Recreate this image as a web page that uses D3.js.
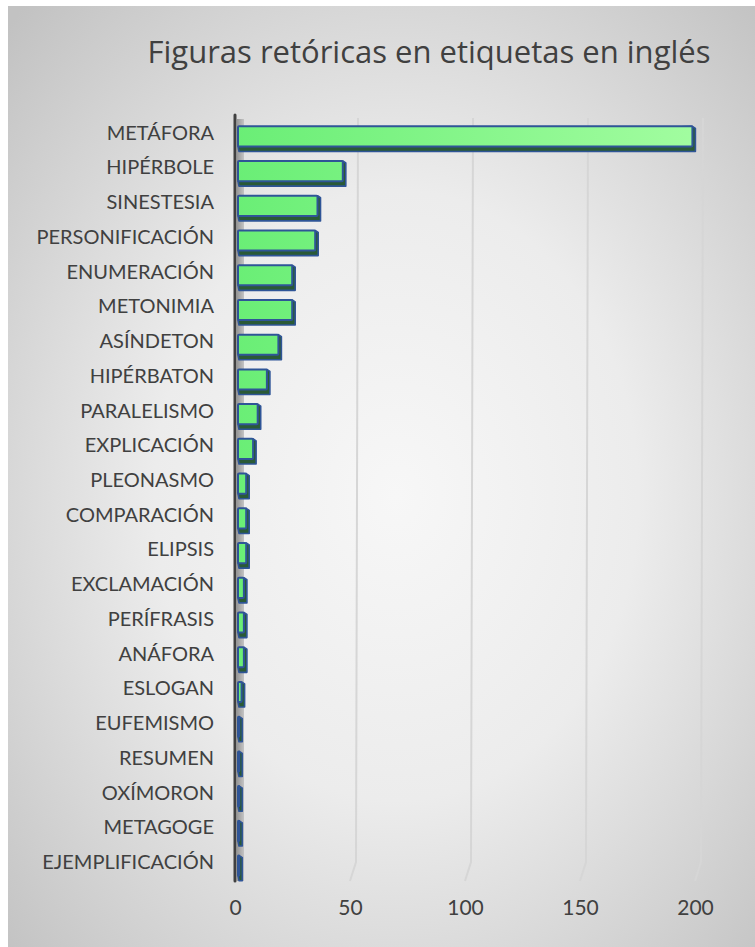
<!DOCTYPE html>
<html>
<head>
<meta charset="utf-8">
<script src="https://cdn.jsdelivr.net/npm/d3@7"></script>
<style>
  html, body { margin: 0; padding: 0; background: #ffffff; }
  svg { display: block; }
</style>
</head>
<body>
<svg id="chart" width="755" height="947"></svg>
<script>
// Figures of speech found in English-language labels, with their counts
const categories = [
  "METÁFORA", "HIPÉRBOLE", "SINESTESIA", "PERSONIFICACIÓN", "ENUMERACIÓN",
  "METONIMIA", "ASÍNDETON", "HIPÉRBATON", "PARALELISMO", "EXPLICACIÓN",
  "PLEONASMO", "COMPARACIÓN", "ELIPSIS", "EXCLAMACIÓN", "PERÍFRASIS",
  "ANÁFORA", "ESLOGAN", "EUFEMISMO", "RESUMEN", "OXÍMORON", "METAGOGE",
  "EJEMPLIFICACIÓN"
];
const counts = [198, 46, 35, 34, 24, 24, 18, 13, 9, 7, 4, 4, 4, 3, 3, 3, 2, 1, 1, 1, 1, 1];
const xTicks = [0, 50, 100, 150, 200];
const title = "Figuras retóricas en etiquetas en inglés";

const W = 755, H = 947;
const svg = d3.select("#chart");
const defs = svg.append("defs");

// Chart background: soft radial grey
const bg = defs.append("radialGradient").attr("id", "bgGrad")
  .attr("cx", "52%").attr("cy", "52%").attr("r", "72%");
bg.append("stop").attr("offset", "0%").attr("stop-color", "#f7f7f7");
bg.append("stop").attr("offset", "45%").attr("stop-color", "#ececec");
bg.append("stop").attr("offset", "100%").attr("stop-color", "#c2c2c2");

svg.append("rect").attr("x", 8).attr("y", 6).attr("width", W - 8).attr("height", H - 6)
  .attr("fill", "url(#bgGrad)");

// Scales (front plane of the 3-D plot)
const x = d3.scaleLinear().domain([0, 200]).range([237, 697]);
const y = d3.scaleBand().domain(categories).range([119, 883]).paddingInner(0.42).paddingOuter(0.21);

const depth = { dx: 6, dy: 0 };   // offset of the back wall
const barDepth = { dx: 3, dy: 5 }; // visible thickness of each bar

// Bar face gradient spans the whole plot width
const fg = defs.append("linearGradient").attr("id", "barFace")
  .attr("gradientUnits", "userSpaceOnUse")
  .attr("x1", x(0)).attr("x2", x(200)).attr("y1", 0).attr("y2", 0);
fg.append("stop").attr("offset", "0%").attr("stop-color", "#6aee76");
fg.append("stop").attr("offset", "100%").attr("stop-color", "#a2fda0");

const sideWall = defs.append("linearGradient").attr("id", "sideWall")
  .attr("x1", 0).attr("x2", 1).attr("y1", 0).attr("y2", 0);
sideWall.append("stop").attr("offset", "0%").attr("stop-color", "#979797");
sideWall.append("stop").attr("offset", "100%").attr("stop-color", "#c4c4c4");

// Title
svg.append("text")
  .attr("x", 429).attr("y", 63)
  .attr("text-anchor", "middle")
  .attr("font-family", "'Open Sans', Lato, sans-serif")
  .attr("font-size", 31)
  .attr("fill", "#404040")
  .text(title);

const yTop = 115, yFloorBack = 862, yFloorFront = 881;

// Gridlines on the back wall, bending onto the floor
const grid = svg.append("g");
xTicks.filter(v => v > 0).forEach(v => {
  grid.append("path")
    .attr("d", d3.line()([
      [x(v) + depth.dx, yTop + 3],
      [x(v) + depth.dx - 2, yFloorBack],
      [x(v) - 2, yFloorFront]
    ]))
    .attr("fill", "none")
    .attr("stroke", "#d6d6d6")
    .attr("stroke-width", 2);
});

// Left side wall depth strip and axis line
svg.append("rect")
  .attr("x", x(0)).attr("y", yTop + 4)
  .attr("width", depth.dx + 1).attr("height", yFloorFront - yTop - 4)
  .attr("fill", "url(#sideWall)");
svg.append("line")
  .attr("x1", x(0) - 2).attr("x2", x(0) - 2)
  .attr("y1", yTop).attr("y2", yFloorFront)
  .attr("stroke", "#404040").attr("stroke-width", 3)
  .attr("stroke-linecap", "round");

// Bars: dark thickness underneath, green face on top
const bars = svg.append("g").selectAll("g").data(categories).join("g");
bars.append("path")
  .attr("d", (c, i) => {
    const x0 = x(0) + 1, x1 = x(counts[i]);
    const y0 = y(c), y1 = y(c) + y.bandwidth();
    return d3.line()([
      [x1, y0], [x1 + barDepth.dx, y0 + 2],
      [x1 + barDepth.dx, y1 + barDepth.dy], [x0 + 1, y1 + barDepth.dy], [x0, y1]
    ]) + "Z";
  })
  .attr("fill", "#2a5a36")
  .attr("stroke", "#2f5597")
  .attr("stroke-width", 1.6)
  .attr("stroke-linejoin", "round");
bars.append("rect")
  .attr("x", x(0) + 1)
  .attr("y", c => y(c))
  .attr("width", (c, i) => Math.max(0.5, x(counts[i]) - x(0) - 1))
  .attr("height", y.bandwidth())
  .attr("rx", 1)
  .attr("fill", "url(#barFace)")
  .attr("stroke", "#2f5597")
  .attr("stroke-width", 2);

// Category axis
const yAxis = svg.append("g")
  .attr("transform", `translate(214,-3)`)
  .call(d3.axisLeft(y).tickSize(0).tickPadding(0));
yAxis.select(".domain").remove();
yAxis.selectAll("text")
  .attr("font-family", "Lato, 'Open Sans', sans-serif")
  .attr("font-size", 20)
  .attr("fill", "#404040");

// Value axis labels
const xAxis = svg.append("g")
  .attr("transform", `translate(-2,${yFloorFront + 19})`)
  .call(d3.axisBottom(x).tickValues(xTicks).tickSize(0).tickPadding(0));
xAxis.select(".domain").remove();
xAxis.selectAll("text")
  .attr("font-family", "Lato, 'Open Sans', sans-serif")
  .attr("font-size", 21)
  .attr("fill", "#404040");
</script>
</body>
</html>
